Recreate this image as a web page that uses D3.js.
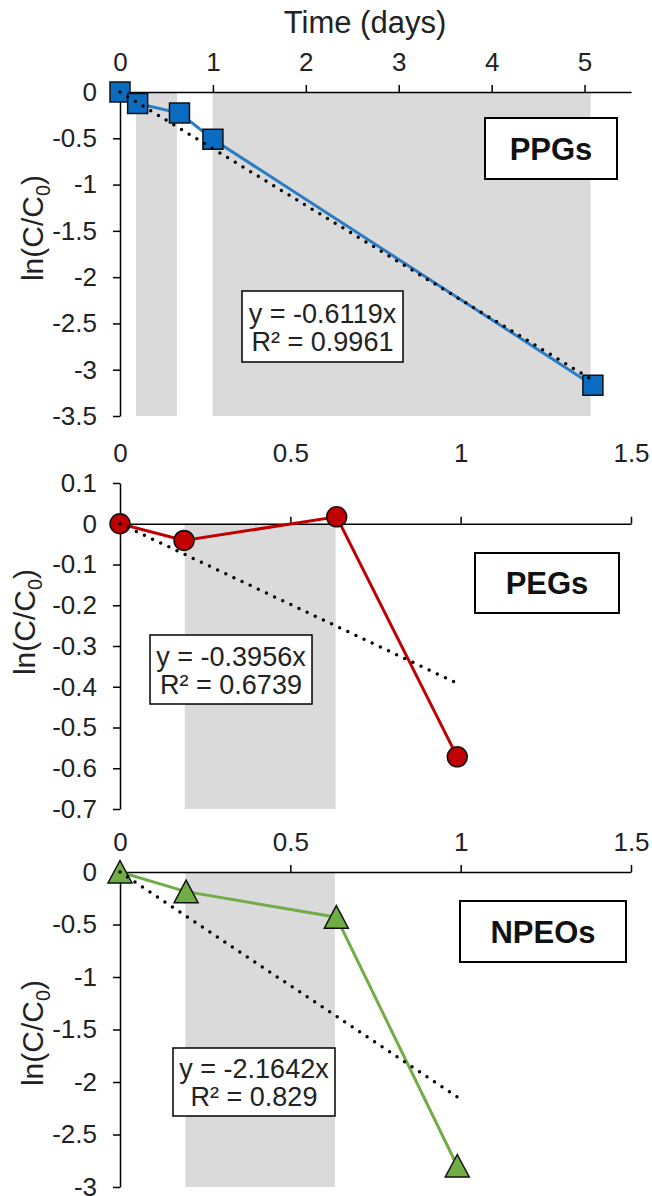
<!DOCTYPE html>
<html>
<head>
<meta charset="utf-8">
<script src="https://cdnjs.cloudflare.com/ajax/libs/d3/7.8.5/d3.min.js"></script>
<style>
  body { margin: 0; background: #fff; }
  svg { display: block; font-family: "Liberation Sans", Arial, sans-serif; }
  .axis path, .axis line { stroke: #000; stroke-width: 1.5; }
  .axis text { font-size: 26px; fill: #222; font-family: "Liberation Sans", Arial, sans-serif; }
</style>
</head>
<body>
<div id="viz"></div>
<script>
// sampling times (days) and ln(C/C0)
const ppgTime = [0, 0.19, 0.64, 1.0, 5.09];
const ppgLnC  = [0, -0.124, -0.227, -0.51, -3.167];
const pegTime = [0, 0.188, 0.636, 0.99];
const pegLnC  = [0, -0.041, 0.017, -0.572];
const npeoTime = [0, 0.194, 0.635, 0.99];
const npeoLnC  = [0, -0.187, -0.43, -2.80];

// linear fits through the origin
const fitSlopes = [-0.6119, -0.3956, -2.1642];
const fitR2 = ["0.9961", "0.6739", "0.829"];
const panelNames = ["PPGs", "PEGs", "NPEOs"];

// grey bands (days)
const ppgShade = [[0.172, 0.613], [0.997, 5.065]];
const pegShade = [[0.19, 0.633]];
const npeoShade = [[0.192, 0.631]];

// tick values
const longTimeTicks = [0, 1, 2, 3, 4, 5];
const shortTimeTicks = [0, 0.5, 1, 1.5];
const ppgTicks = [0, -0.5, -1, -1.5, -2, -2.5, -3, -3.5];
const pegTicks = [0.1, 0, -0.1, -0.2, -0.3, -0.4, -0.5, -0.6, -0.7];
const npeoTicks = [0, -0.5, -1, -1.5, -2, -2.5, -3];

const width = 652, height = 1196;
const xLeft = 120, xRight = 631;

// layout of each panel (pixels)
let panels = [
  { name: panelNames[0], time: ppgTime, lnC: ppgLnC, slope: fitSlopes[0], r2: fitR2[0], shade: ppgShade,
    xDomain: [0, 5.5], xTicks: longTimeTicks, yDomain: [-3.5, 0], yTicks: ppgTicks,
    top: 92, bottom: 416, line: "#2A7CC4", fill: "#0A6CC0", marker: "square",
    nameBox: [485, 118, 132, 61], eqBox: [242, 291, 161, 71], yLabel: [43, 228] },
  { name: panelNames[1], time: pegTime, lnC: pegLnC, slope: fitSlopes[1], r2: fitR2[1], shade: pegShade,
    xDomain: [0, 1.5], xTicks: shortTimeTicks, yDomain: [-0.7, 0.1], yTicks: pegTicks,
    top: 483, bottom: 809, line: "#C00000", fill: "#C00000", marker: "circle",
    nameBox: [475, 553, 144, 60], eqBox: [150, 635, 162, 69], yLabel: [35, 622] },
  { name: panelNames[2], time: npeoTime, lnC: npeoLnC, slope: fitSlopes[2], r2: fitR2[2], shade: npeoShade,
    xDomain: [0, 1.5], xTicks: shortTimeTicks, yDomain: [-3, 0], yTicks: npeoTicks,
    top: 872, bottom: 1187, line: "#70AD47", fill: "#70AD47", marker: "triangle",
    nameBox: [460, 901, 166, 61], eqBox: [173, 1048, 162, 68], yLabel: [43, 1033] }
];

const fmt = d => String(+d.toFixed(2));

let svg = d3.select("#viz")
  .append("svg")
    .attr("width", width)
    .attr("height", height);

svg.append("rect").attr("width", width).attr("height", height).attr("fill", "#fff");

// shared time title
svg.append("text")
  .attr("x", 365)
  .attr("y", 33)
  .attr("text-anchor", "middle")
  .attr("fill", "#222")
  .style("font-size", "31px")
  .text("Time (days)");

panels.forEach(p => {
  let xScale = d3.scaleLinear().domain(p.xDomain).range([xLeft, xRight]);
  let yScale = d3.scaleLinear().domain(p.yDomain).range([p.bottom, p.top]);
  let g = svg.append("g");

  // grey bands under the data
  g.selectAll("rect.band")
    .data(p.shade)
    .enter()
    .append("rect")
      .attr("class", "band")
      .attr("x", d => xScale(d[0]))
      .attr("width", d => xScale(d[1]) - xScale(d[0]))
      .attr("y", yScale(0))
      .attr("height", p.bottom - yScale(0))
      .attr("fill", "#DADADA");

  // y axis
  g.append("g")
    .attr("class", "axis")
    .attr("transform", "translate(" + xLeft + ",0)")
    .call(d3.axisLeft(yScale)
      .tickValues(p.yTicks)
      .tickSize(7)
      .tickSizeOuter(0)
      .tickPadding(16)
      .tickFormat(fmt));

  // x axis sits on y = 0, labels go above the plot area
  let xAxisG = g.append("g")
    .attr("class", "axis")
    .attr("transform", "translate(0," + yScale(0) + ")")
    .call(d3.axisTop(xScale)
      .tickValues(p.xTicks)
      .tickSize(7)
      .tickSizeOuter(0)
      .tickFormat(fmt));
  xAxisG.selectAll(".tick text").attr("y", p.top - 21 - yScale(0));

  // y axis title
  let yl = svg.append("text")
    .attr("transform", "translate(" + p.yLabel[0] + "," + p.yLabel[1] + ") rotate(-90)")
    .attr("text-anchor", "middle")
    .attr("fill", "#222")
    .style("font-size", "30px");
  yl.append("tspan").text("ln(C/C");
  yl.append("tspan").attr("dy", 7).style("font-size", "20px").text("0");
  yl.append("tspan").attr("dy", -7).text(")");

  let pts = p.time.map((t, i) => ({ t: t, v: p.lnC[i] }));

  // connecting line
  g.append("path")
    .datum(pts)
    .attr("d", d3.line().x(d => xScale(d.t)).y(d => yScale(d.v)))
    .attr("fill", "none")
    .attr("stroke", p.line)
    .attr("stroke-width", 3);

  // markers
  let mk = g.selectAll("path.marker")
    .data(pts)
    .enter()
    .append("path")
      .attr("class", "marker")
      .attr("transform", d => "translate(" + xScale(d.t) + "," + yScale(d.v) + ")")
      .attr("fill", p.fill)
      .attr("stroke", "#111")
      .attr("stroke-width", 1.5);
  if (p.marker === "square") mk.attr("d", "M-10,-10H10V10H-10Z");
  else if (p.marker === "circle") mk.attr("d", d3.symbol(d3.symbolCircle, Math.PI * 100));
  else mk.attr("d", "M0,-11.5L12,11H-12Z");

  // dotted trendline
  let tEnd = d3.max(p.time);
  g.append("line")
    .attr("x1", xScale(0))
    .attr("y1", yScale(0))
    .attr("x2", xScale(tEnd))
    .attr("y2", yScale(p.slope * tEnd))
    .attr("stroke", "#000")
    .attr("stroke-width", 3.5)
    .attr("stroke-linecap", "round")
    .attr("stroke-dasharray", "0,9");

  // name box
  let nb = p.nameBox;
  g.append("rect")
    .attr("x", nb[0]).attr("y", nb[1]).attr("width", nb[2]).attr("height", nb[3])
    .attr("fill", "#fff").attr("stroke", "#000").attr("stroke-width", 2);
  g.append("text")
    .attr("x", nb[0] + nb[2] / 2)
    .attr("y", nb[1] + nb[3] / 2 + 11)
    .attr("text-anchor", "middle")
    .style("font-size", "31px")
    .style("font-weight", "bold")
    .attr("fill", "#111")
    .text(p.name);

  // equation box
  let eb = p.eqBox;
  g.append("rect")
    .attr("x", eb[0]).attr("y", eb[1]).attr("width", eb[2]).attr("height", eb[3])
    .attr("fill", "#fff").attr("stroke", "#000").attr("stroke-width", 1.5);
  let eq = g.append("text")
    .attr("text-anchor", "middle")
    .attr("fill", "#222")
    .style("font-size", "27px");
  eq.append("tspan")
    .attr("x", eb[0] + eb[2] / 2)
    .attr("y", eb[1] + eb[3] / 2 - 4)
    .text("y = " + p.slope + "x");
  eq.append("tspan")
    .attr("x", eb[0] + eb[2] / 2)
    .attr("y", eb[1] + eb[3] / 2 + 24)
    .text("R\u00B2 = " + p.r2);
});
</script>
</body>
</html>
